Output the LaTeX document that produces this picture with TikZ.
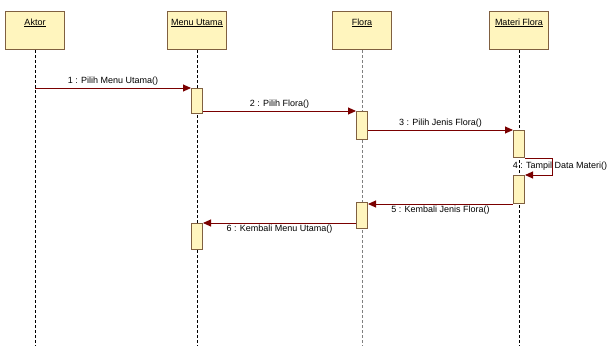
\documentclass[tikz,border=0pt]{standalone}
\usepackage{fontspec}
\setmainfont{Liberation Sans}
\usetikzlibrary{positioning, arrows.meta}

\definecolor{headfill}{HTML}{FFF5BE}
\definecolor{headdraw}{HTML}{806040}
\definecolor{msgred}{HTML}{7A0000}

\begin{document}
\begin{tikzpicture}[x=1pt, y=-1pt,
      % object boxes at the top
      head/.style={draw=headdraw, fill=headfill, line width=1pt, minimum width=59pt,
        text height=7pt, text depth=18pt, inner ysep=6.5pt, anchor=north,
        font=\fontsize{9}{10}\selectfont},
      act/.style={draw=headdraw, fill=headfill, line width=1pt, minimum width=11pt,
        inner sep=0pt, anchor=north},
      life/.style={dash pattern=on 3pt off 2pt, line width=0.7pt},
      msg/.style={draw=msgred, line width=0.9pt, -{Triangle[length=8pt, width=7pt]}},
      msglabel/.style={font=\fontsize{9}{10}\selectfont, inner sep=2pt}
    ]
    \useasboundingbox (0,0) rectangle (608,346);

    % --- lifeline heads ---
    \node[head] (ak) at (35,11)  {\underline{Aktor}};
    \node[head] (mu) at (197,11) {\underline{Menu Utama}};
    \node[head] (fl) at (362,11) {\underline{Flora}};
    \node[head] (mf) at (519,11) {\underline{Materi Flora}};

    % --- lifelines ---
    \foreach \n/\c in {ak/black, mu/black, fl/gray, mf/black} {
      \coordinate (\n-end) at (\n.south |- 0,346);
      \draw[life, \c] (\n.south) -- (\n-end);
    }

    % --- activations ---
    \node[act, minimum height=25pt] (mu1) at (197,88)  {};
    \node[act, minimum height=28pt] (fl1) at (362,111) {};
    \node[act, minimum height=27pt] (mf1) at (519,130) {};
    \node[act, minimum height=28pt] (mf2) at (519,175) {};
    \node[act, minimum height=26pt] (fl2) at (362,202) {};
    \node[act, minimum height=26pt] (mu2) at (197,223) {};

    % --- messages ---
    \draw[msg] (ak.south |- mu1.north) -- node[msglabel, above] {1 : Pilih Menu Utama()} (mu1.north west);
    \draw[msg] (mu1.east |- fl1.north) -- node[msglabel, above] {2 : Pilih Flora()} (fl1.north west);
    \draw[msg] (fl1.east |- mf1.north) -- node[msglabel, above] {3 : Pilih Jenis Flora()} (mf1.north west);
    \draw[msg] (mf1.south east) -- ++(27,0) |- node[msglabel, pos=0.25, xshift=8pt] {4 : Tampil Data Materi()} (mf2.north east);
    \draw[msg] (mf2.south west) -- node[msglabel, below] {5 : Kembali Jenis Flora()} (mf2.south west -| fl2.east);
    \draw[msg] (fl2.west |- mu2.north) -- node[msglabel, below] {6 : Kembali Menu Utama()} (mu2.north east);

\end{tikzpicture}
\end{document}
